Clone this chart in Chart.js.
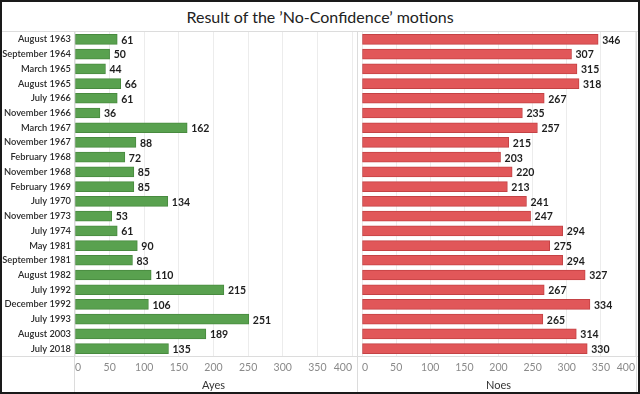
<!DOCTYPE html>
<html>
<head>
<meta charset="utf-8">
<script src="https://cdn.jsdelivr.net/npm/chart.js@4.4.0/dist/chart.umd.min.js"></script>
<style>
  body { margin: 0; background: #fff; font-family: Lato, sans-serif; }
  #wrap { position: relative; width: 640px; height: 394px; overflow: hidden; }
  #frame { position: absolute; left: 0; top: 0; width: 640px; height: 394px; box-sizing: border-box; border: 2px solid #1a1a1a; pointer-events: none; z-index: 5; }
  #title { position: absolute; left: 0; top: 2px; width: 640px; height: 29px; line-height: 29px; text-align: center; font-size: 16px; color: #222; }
  .line { position: absolute; background: #dcdcdc; z-index: 3; }
  canvas { position: absolute; }
</style>
</head>
<body>
<div id="wrap">
  <div id="title">Result of the ’No-Confidence’ motions</div>
  <canvas id="ayesChart" width="357" height="361" style="left:0;top:31px"></canvas>
  <canvas id="noesChart" width="283" height="361" style="left:357px;top:31px"></canvas>
  <div class="line" style="left:0;top:31px;width:640px;height:1px"></div>
  <div class="line" style="left:0;top:356px;width:640px;height:1px"></div>
  <div class="line" style="left:74px;top:31px;width:1px;height:363px"></div>
  <div class="line" style="left:357px;top:31px;width:1px;height:363px"></div>
  <div class="line" style="left:636px;top:31px;width:1px;height:363px"></div>
  <div id="frame"></div>
</div>
<script>
const motions = [
  "August 1963", "September 1964", "March 1965", "August 1965", "July 1966",
  "November 1966", "March 1967", "November 1967", "February 1968", "November 1968",
  "February 1969", "July 1970", "November 1973", "July 1974", "May 1981",
  "September 1981", "August 1982", "July 1992", "December 1992", "July 1993",
  "August 2003", "July 2018"
];
const ayes = [61, 50, 44, 66, 61, 36, 162, 88, 72, 85, 85, 134, 53, 61, 90, 83, 110, 215, 106, 251, 189, 135];
const noes = [346, 307, 315, 318, 267, 235, 257, 215, 203, 220, 213, 241, 247, 294, 275, 294, 327, 267, 334, 265, 314, 330];
const axisMax = 400;
const axisStep = 50;

// value labels at the end of each bar
const barLabels = {
  id: "barLabels",
  afterDatasetsDraw(chart) {
    const ctx = chart.ctx;
    const meta = chart.getDatasetMeta(0);
    const values = chart.data.datasets[0].data;
    ctx.save();
    ctx.font = "bold 10.5px Lato";
    ctx.fillStyle = "#1e1e1e";
    ctx.textBaseline = "middle";
    ctx.textAlign = "left";
    meta.data.forEach((bar, i) => {
      ctx.fillText(values[i], bar.x + 4, bar.y + 1);
    });
    ctx.restore();
  },
};

const makeChart = (id, values, fill, border, title, showNames) => {
  return new Chart(document.getElementById(id), {
    type: "bar",
    data: {
      labels: motions,
      datasets: [{
        data: values,
        backgroundColor: fill,
        borderColor: border,
        borderWidth: 1,
        borderSkipped: false,
        barThickness: 10,
      }],
    },
    options: {
      indexAxis: "y",
      responsive: false,
      animation: false,
      devicePixelRatio: 1,
      layout: { padding: { top: 1, right: 1, left: 0, bottom: 0 } },
      plugins: { legend: { display: false }, tooltip: { enabled: false } },
      scales: {
        x: {
          min: 0,
          max: axisMax,
          grid: { color: "#ececec", drawTicks: false },
          border: { display: false },
          ticks: {
            stepSize: axisStep,
            align: "inner",
            padding: 5,
            color: "#8a8a8a",
            font: { family: "Lato", size: 10.5 },
            maxRotation: 0,
            autoSkip: false,
          },
          title: {
            display: true,
            text: title,
            color: "#333",
            font: { family: "Lato", size: 11 },
            padding: { top: 4, bottom: 0 },
          },
          afterFit: (scale) => { scale.height = 36; },
        },
        y: {
          display: showNames,
          grid: { display: false, drawTicks: false },
          border: { display: false },
          ticks: {
            autoSkip: false,
            padding: 4,
            color: "#2a2a2a",
            font: { family: "Lato", size: 9.3, weight: "600" },
          },
          afterFit: (scale) => {
            scale.width = showNames ? 75 : 0;
            scale.paddingTop = 0;
            scale.paddingBottom = 0;
          },
        },
      },
    },
    plugins: [barLabels],
  });
};

makeChart("ayesChart", ayes, "rgb(89,161,79)", "rgb(72,138,63)", "Ayes", true);
makeChart("noesChart", noes, "rgb(225,87,89)", "rgb(196,66,69)", "Noes", false);
</script>
</body>
</html>
